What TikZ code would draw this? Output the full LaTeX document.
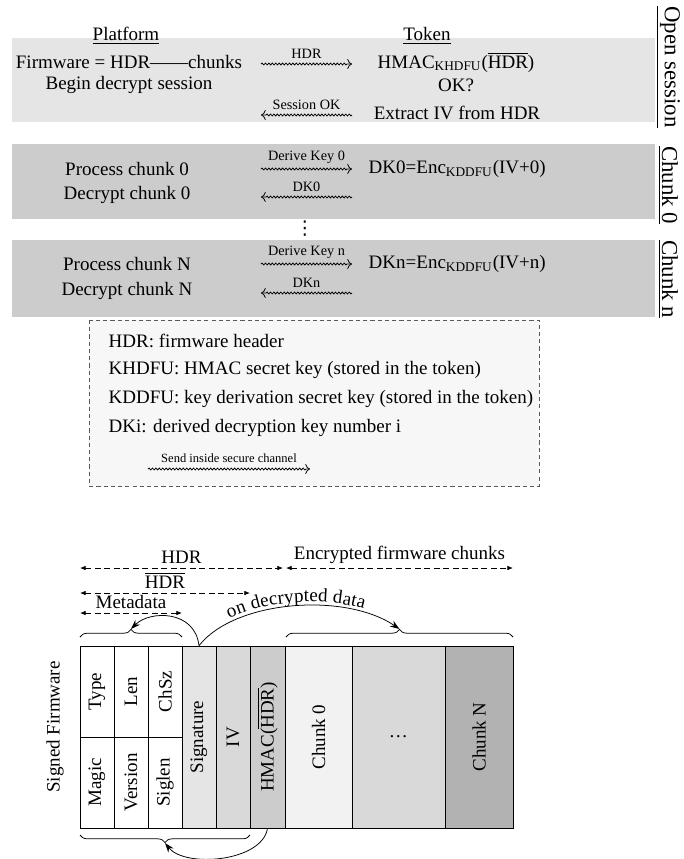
\documentclass[tikz,border=0pt]{standalone}
\usepackage{fontspec}
\setmainfont{Liberation Serif}
\newfontfamily\symbolfont{DejaVu Sans}
\usetikzlibrary{arrows.meta,decorations.pathmorphing,decorations.pathreplacing,decorations.text}

\tikzset{
  secure/.style={->, decorate, decoration={snake, amplitude=0.5pt, segment length=1.8pt, post length=2pt}},
  msg/.style={above=1.5pt, font=\fontsize{7.5}{9}\selectfont, inner sep=1pt},
  span/.style={dash pattern=on 3pt off 2pt, {Latex[length=3pt,width=2.4pt]}-{Latex[length=3pt,width=2.4pt]}},
  spanlabel/.style={above, inner sep=2pt},
  field/.style={draw, rotate=90, inner sep=0pt, minimum width=91*0.526pt, minimum height=34*0.526pt},
  part/.style={draw, rotate=90, inner sep=0pt, minimum width=182*0.526pt},
  phase/.style={rotate=-90, font=\fontsize{12}{14}\selectfont},
  bracket/.style={decorate, decoration={brace, amplitude=4pt}},
  link/.style={-{Stealth[length=5pt,width=3.5pt]}}
}

\begin{document}
\begin{tikzpicture}[x=0.526pt, y=-0.526pt]
  \useasboundingbox (0,0) rectangle (683,859);

  % exchange with the token
  \fill[gray!20] (12,38) rectangle (655,122);
  \fill[gray!40] (12,144) rectangle (655,219);
  \fill[gray!40] (12,240) rectangle (655,317);

  \node (plat) at (126,36) {\underline{Platform}};
  \node (tok) at (427,36) {\underline{Token}};

  \node (fw) at (129,62) {Firmware = HDR---{}---chunks};
  \node (begin) at (129,85) {Begin decrypt session};
  \node (hmac) at (456,62) {HMAC\textsubscript{KHDFU}($\overline{\mbox{HDR}}$)};
  \node (okq) at (456,85) {OK?};
  \node (extract) at (457,113) {Extract IV from HDR};
  \coordinate (hdrl) at (261,64);
  \coordinate (hdrr) at (352,64);
  \coordinate (sokl) at (261,115);
  \coordinate (sokr) at (352,115);
  \draw[secure] (hdrl) -- node[msg] {HDR} (hdrr);
  \draw[secure] (sokr) -- node[msg] {Session OK} (sokl);

  \node (proc0) at (127,169) {Process chunk 0};
  \node (dec0) at (127,195) {Decrypt chunk 0};
  \node[anchor=west] (dk0) at (362,169) {DK0=Enc\textsubscript{KDDFU}(IV+0)};
  \coordinate (k0l) at (261,169);
  \coordinate (k0r) at (352,169);
  \coordinate (d0l) at (261,197);
  \coordinate (d0r) at (352,197);
  \draw[secure] (k0l) -- node[msg] {Derive Key 0} (k0r);
  \draw[secure] (d0r) -- node[msg] {DK0} (d0l);

  \node[inner sep=0pt, font=\symbolfont\fontsize{10}{12}\selectfont] (vdots) at (305,229) {⋮};

  \node (procn) at (127,264) {Process chunk N};
  \node (decn) at (127,291) {Decrypt chunk N};
  \node[anchor=west] (dkn) at (362,264) {DKn=Enc\textsubscript{KDDFU}(IV+n)};
  \coordinate (knl) at (261,264);
  \coordinate (knr) at (352,264);
  \coordinate (dnl) at (261,293);
  \coordinate (dnr) at (352,293);
  \draw[secure] (knl) -- node[msg] {Derive Key n} (knr);
  \draw[secure] (dnr) -- node[msg] {DKn} (dnl);

  \node[phase] (open) at (668,67) {\underline{Open session}};
  \node[phase] (ch0) at (668,185) {\underline{Chunk 0}};
  \node[phase] (chn) at (668,279) {\underline{Chunk n}};

  % legend
  \draw[gray!70!black, dash pattern=on 2.2pt off 1.6pt, fill=gray!6] (89,320) rectangle (539,486);
  \node[anchor=west] (lhdr) at (102,341) {HDR: firmware header};
  \node[anchor=west] (lkh) at (102,370) {KHDFU: HMAC secret key (stored in the token)};
  \node[anchor=west] (lkd) at (102,399) {KDDFU: key derivation secret key (stored in the token)};
  \node[anchor=west] (ldk) at (102,428) {DKi: derived decryption key number i};
  \coordinate (sendl) at (148,469);
  \coordinate (sendr) at (310,469);
  \draw[secure] (sendl) -- node[msg, font=\fontsize{6.6}{8}\selectfont, above=0.5pt] {Send inside secure channel} (sendr);

  % firmware layout
  \node[field] (type) at (97,691.5) {Type};
  \node[field] (magic) at (97,782.5) {Magic};
  \node[field] (len) at (131,691.5) {Len};
  \node[field] (version) at (131,782.5) {Version};
  \node[field] (chsz) at (165,691.5) {ChSz};
  \node[field] (siglen) at (165,782.5) {Siglen};
  \node[part, fill=gray!20, minimum height=34*0.526pt] (sig) at (199,737) {Signature};
  \node[part, fill=gray!30, minimum height=34*0.526pt] (iv) at (233,737) {IV};
  \node[part, fill=gray!40, minimum height=35*0.526pt] (mac) at (267.5,737) {HMAC($\overline{\mbox{HDR}}$)};
  \node[part, fill=gray!10, minimum height=67*0.526pt] (c0) at (318.5,737) {Chunk 0};
  \node[draw, fill=gray!30, inner sep=0pt, minimum width=93*0.526pt, minimum height=182*0.526pt] (cdots) at (398.5,737) {\dots};
  \node[part, fill=gray!60, minimum height=68*0.526pt] (cn) at (479,737) {Chunk N};

  \node[rotate=90] (signed) at (55,727) {Signed Firmware};

  \draw[span] (80,568) -- node[spanlabel] (lhd) {HDR} (283,568);
  \draw[span] (286,568) -- node[spanlabel] (lenc) {Encrypted firmware chunks} (513,568);
  \draw[span] (80,593) -- node[spanlabel] (lhb) {$\overline{\mbox{HDR}}$} (250,593);
  \draw[span] (80,613) -- node[spanlabel] (lmeta) {Metadata} (182,613);

  \draw[bracket] (80,637) -- (182,637);
  \draw[bracket] (286,637) -- (513,637);
  \draw[bracket] (250,835) -- (80,835);
  \coordinate (metab) at (131,629);
  \coordinate (chunkb) at (399.5,629);
  \coordinate (hdrb) at (165,843);

  \draw[link] (sig.east) .. controls (195,610) and (150,610) .. (metab);
  \draw[link] (sig.east) .. controls (235,600) and (345,592) .. (chunkb);
  \path[decorate, decoration={text along path, text={on decrypted data}, text align=center, raise=2pt}]
    (sig.east) .. controls (235,600) and (345,592) .. (chunkb);
  \draw[link] (mac.west) .. controls (262,862) and (185,868) .. (hdrb);
\end{tikzpicture}
\end{document}
